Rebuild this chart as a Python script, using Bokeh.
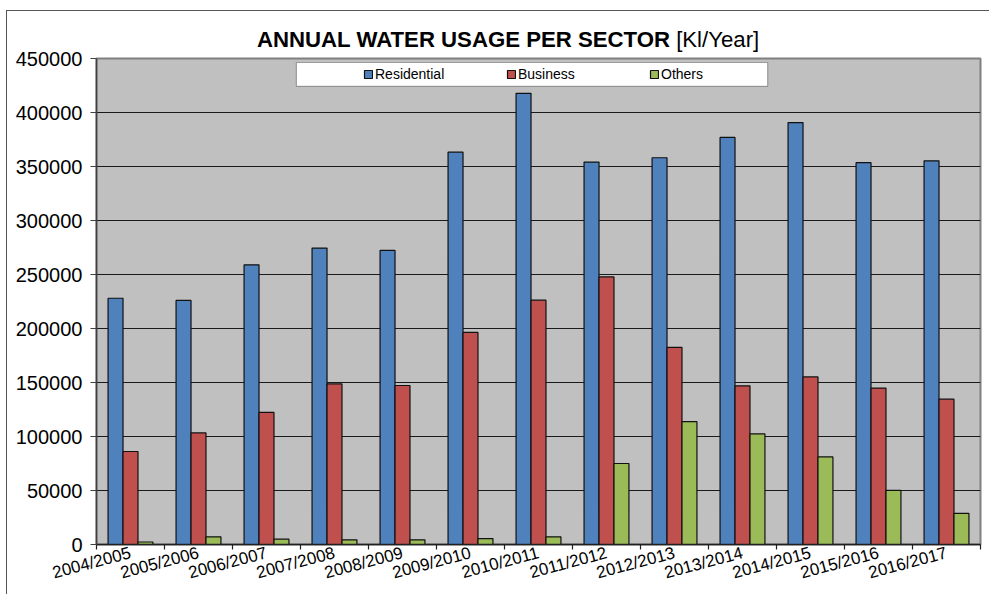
from bokeh.plotting import figure
from bokeh.layouts import column
from bokeh.models import (Range1d, FixedTicker, NumeralTickFormatter, Legend, LegendItem,
                          BoxAnnotation, ColumnDataSource, Div)
from bokeh.transform import dodge
from bokeh.embed import file_html
from bokeh.resources import INLINE

years = ["2004/2005", "2005/2006", "2006/2007", "2007/2008", "2008/2009", "2009/2010",
         "2010/2011", "2011/2012", "2012/2013", "2013/2014", "2014/2015", "2015/2016", "2016/2017"]
residential = [228000, 226000, 259000, 274500, 272300, 363300, 417800,
               354100, 358100, 376900, 390700, 353500, 355300]
business = [86100, 103300, 122300, 148700, 147200, 196400, 226200,
            247800, 182600, 146900, 155200, 144800, 134600]
others = [2300, 7100, 4900, 4300, 4300, 5500, 7100,
          75000, 113700, 102400, 81100, 50100, 28900]
y_ticks = [0, 50000, 100000, 150000, 200000, 250000, 300000, 350000, 400000, 450000]
title_bold = "ANNUAL WATER USAGE PER SECTOR"
title_unit = "[Kl/Year]"

pos = list(range(len(years)))
source = ColumnDataSource(dict(pos=pos, year=years, residential=residential,
                               business=business, others=others))

FONT = "Liberation Sans"

p = figure(width=989, height=546, output_backend="svg", toolbar_location=None,
           x_range=Range1d(-0.5, len(years) - 0.5), y_range=Range1d(0, 450000),
           min_border_left=96, min_border_right=9, min_border_top=10, min_border_bottom=47,
           margin=0)

p.background_fill_color = "#C0C0C0"
p.border_fill_alpha = 0
p.outline_line_color = "#808080"
p.outline_line_width = 2

bw = 0.22
r1 = p.vbar(x=dodge("pos", -bw, range=p.x_range), top="residential", source=source, width=bw,
            fill_color="#4F81BD", line_color="#111111", line_width=1.2)
r2 = p.vbar(x=dodge("pos", 0, range=p.x_range), top="business", source=source, width=bw,
            fill_color="#C0504D", line_color="#111111", line_width=1.2)
r3 = p.vbar(x=dodge("pos", bw, range=p.x_range), top="others", source=source, width=bw,
            fill_color="#9BBB59", line_color="#111111", line_width=1.2)

# grid
p.xgrid.grid_line_color = None
p.ygrid.grid_line_color = "#1a1a1a"
p.ygrid.grid_line_width = 1.1
p.ygrid.ticker = FixedTicker(ticks=y_ticks)

# y axis
p.yaxis.ticker = FixedTicker(ticks=y_ticks)
p.yaxis.formatter = NumeralTickFormatter(format="0")
p.yaxis.major_label_text_font = FONT
p.yaxis.major_label_text_font_size = "20px"
p.yaxis.major_label_text_color = "black"
p.yaxis.major_tick_out = 6
p.yaxis.major_tick_in = 0
p.yaxis.minor_tick_line_color = None
p.yaxis.axis_line_color = "#404040"
p.yaxis.axis_line_width = 1.5
p.yaxis.major_tick_line_color = "#404040"
p.yaxis.major_label_standoff = 8

# x axis: labels at category centres, ticks at category boundaries
bounds = [i - 0.5 for i in range(len(years) + 1)]
p.xaxis.ticker = FixedTicker(ticks=pos, minor_ticks=bounds)
p.xaxis.major_label_overrides = {i: y for i, y in zip(pos, years)}
p.xaxis.major_label_orientation = 0.26
p.xaxis.major_label_text_font = FONT
p.xaxis.major_label_text_font_size = "17px"
p.xaxis.major_label_text_color = "black"
p.xaxis.major_tick_out = 0
p.xaxis.major_tick_in = 0
p.xaxis.minor_tick_out = 5
p.xaxis.minor_tick_in = 0
p.xaxis.minor_tick_line_color = "#202020"
p.xaxis.minor_tick_line_width = 1.2
p.xaxis.axis_line_color = "#202020"
p.xaxis.axis_line_width = 1.5
p.xaxis.major_label_standoff = 3

# legend box
box = BoxAnnotation(left=2.44, right=9.37, top=446300, bottom=424200,
                    fill_color="white", fill_alpha=1.0, line_color="black", line_width=1.2)
p.add_layout(box)

legend = Legend(items=[LegendItem(label="Residential", renderers=[r1]),
                       LegendItem(label="Business", renderers=[r2]),
                       LegendItem(label="Others", renderers=[r3])],
                orientation="horizontal", location=(260, 455),
                background_fill_alpha=0, border_line_alpha=0,
                glyph_width=10, glyph_height=10, label_standoff=2, label_width=131,
                spacing=0, padding=7, margin=0,
                label_text_font=FONT, label_text_font_size="14px", label_text_color="black")
p.add_layout(legend)

title = Div(width=989, height=48, margin=0,
            text=('<div style="position:absolute;left:6px;top:10px;width:983px;height:584px;'
                  'border-top:1px solid #555;border-left:1px solid #555;box-sizing:border-box;'
                  'pointer-events:none;"></div>'
                  '<div style="position:absolute;left:257px;top:27px;white-space:nowrap;'
                  'font-family:\'Liberation Sans\';font-size:22.2px;color:black;line-height:26px;">'
                  '<b>' + title_bold + '</b> ' + title_unit + '</div>'),
            styles={"overflow": "visible"})

layout = column(title, p, spacing=0, margin=0)

open("out.html", "w").write(file_html(layout, INLINE))
